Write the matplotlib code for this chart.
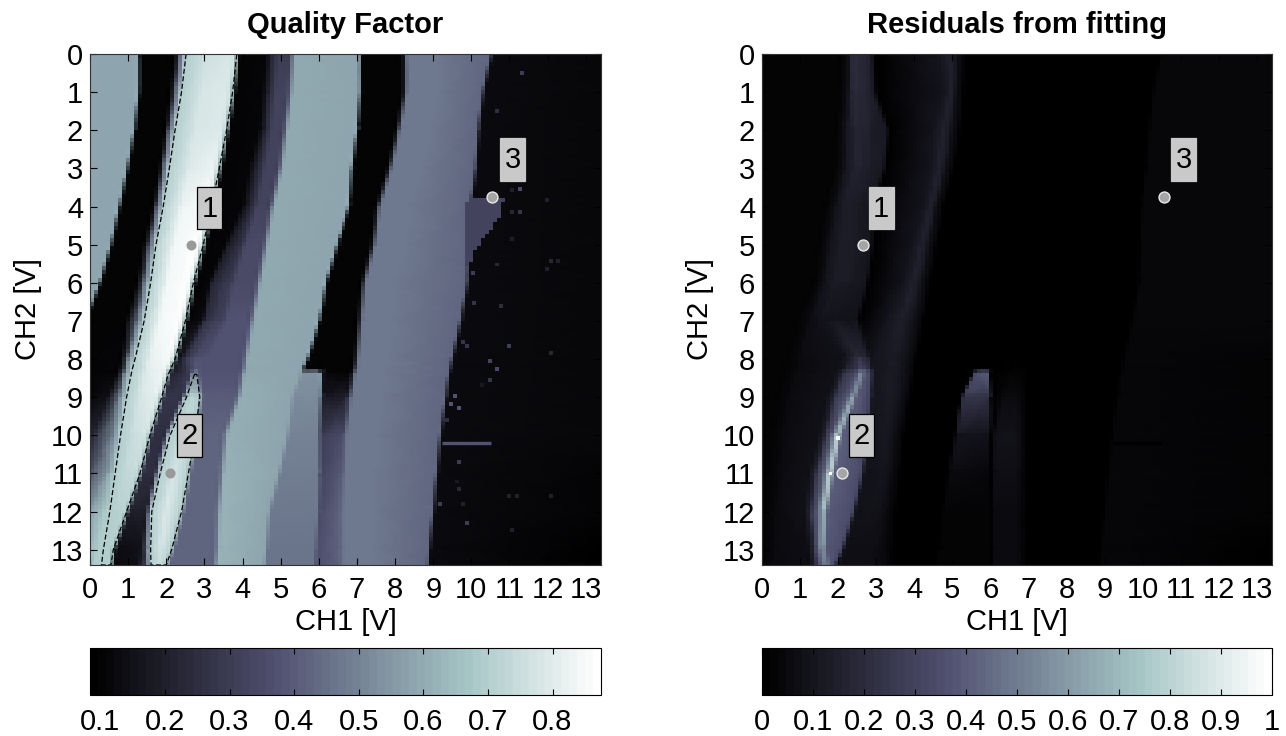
import numpy as np
import matplotlib
matplotlib.use("Agg")
import matplotlib.pyplot as plt
from matplotlib.backends.backend_agg import FigureCanvasAgg
from matplotlib.cm import ScalarMappable
from matplotlib.colors import Normalize
from matplotlib.figure import Figure
from matplotlib.patches import Rectangle

plt.rcParams['font.family'] = ['Liberation Sans', 'DejaVu Sans']

rows = np.array([0, 1, 2, 3, 4, 5, 6, 7, 8, 8.3, 8.4, 9, 10, 11, 12, 13, 13.4])

tick_volts = list(range(14))
qf_ticks = [0.1, 0.2, 0.3, 0.4, 0.5, 0.6, 0.7, 0.8]
res_ticks = [0, 0.1, 0.2, 0.3, 0.4, 0.5, 0.6, 0.7, 0.8, 0.9, 1]
res_tick_labels = ['0', '0.1', '0.2', '0.3', '0.4', '0.5', '0.6', '0.7', '0.8', '0.9', '1']

# marked points and their labels
point_names = ['1', '2', '3']
point_x = [2.65, 2.1, 10.55]
point_y = [5.0, 11.0, 3.75]
label_x = [2.8, 2.28, 10.75]
label_y = [3.48, 9.45, 2.2]

# band edges, Quality Factor panel
band_a_right = np.array([1.3, 1.3, 1.18, 1.0, .79, .57, .28, -.1, -.2, -.2, -.2, -.2, -.2, -.2, -.2, -.2, -.2])
dark_end = np.array([2.25, 2.13, 2.0, 1.85, 1.68, 1.44, 1.27, 1.0, .87, .8, .75, .52, .13, -.1, -.1, -.1, -.1])
contour_left = np.array([2.52, 2.4, 2.23, 2.08, 1.92, 1.73, 1.59, 1.42, 1.18, 1.1, 1.08, .96, .80, .66, .52, .35, .3])
contour_right = np.array([3.85, 3.74, 3.58, 3.39, 3.19, 2.97, 2.71, 2.5, 2.23, 2.1, 2.05, 1.88, 1.57, 1.31, .96, .61, .55])
dark2_end = np.array([4.63, 4.55, 4.46, 4.2, 4.02, 3.58, 3.15, 3.0, 2.53, 2.55, 2.6, 2.42, 2.0, 1.75, 1.55, 1.35, 1.3])
lobe_left = np.array([4.75, 4.67, 4.58, 4.32, 4.14, 3.7, 3.27, 3.1, 2.63, 2.7, 2.74, 2.53, 2.1, 1.84, 1.62, 1.59, 1.6])
lobe_right = np.array([4.85, 4.77, 4.68, 4.5, 4.3, 4.0, 3.7, 3.5, 3.0, 2.85, 2.8, 2.88, 2.75, 2.58, 2.4, 2.14, 2.0])
purple_end = np.array([5.25, 5.2, 5.07, 4.94, 4.72, 4.55, 4.37, 4.2, 4.02, 3.98, 3.95, 3.85, 3.5, 3.41, 3.32, 3.28, 3.25])
teal_right = np.array([7.12, 7.12, 7.04, 6.9, 6.82, 6.5, 6.2, 6.03, 5.73, 5.58, 5.55, 5.33, 5.2, 4.98, 4.72, 4.63, 4.6])
gray_right = np.array([7.42, 7.42, 7.34, 7.2, 7.12, 6.8, 6.5, 6.33, 6.03, 5.98, 6.1, 6.07, 6.03, 6.03, 6.0, 5.94, 5.92])
big_left = np.array([8.35, 8.35, 8.17, 7.95, 7.65, 7.52, 7.26, 7.17, 7.08, 7.03, 7.0, 6.9, 6.78, 6.73, 6.68, 6.68, 6.68])
big_right = np.array([10.55, 10.33, 10.21, 10.14, 10.0, 9.96, 9.92, 9.75, 9.53, 9.46, 9.44, 9.36, 9.22, 9.12, 9.03, 8.92, 8.9])

# levels along those edges
lv_a = [.59] * 17
lv_after_a = [.1, .1, .1, .1, .1, .1, .1, .1, .1, .1, .1, .1, .2, .3, .55, .62, .63]
lv_dark_end = [.1, .1, .1, .1, .1, .1, .1, .1, .11, .12, .12, .15, .22, .3, .55, .62, .63]
lv_fringe = [.45, .45, .45, .45, .45, .45, .5, .5, .55, .55, .55, .55, .55, .6, .68, .7, .7]
lv_contour = [.7] * 17
lv_peak = [.78, .8, .8, .83, .86, .87, .87, .87, .86, .85, .85, .82, .78, .74, .72, .7, .7]
lv_inner = [.76, .78, .78, .8, .83, .84, .84, .84, .82, .81, .8, .78, .75, .73, .71, .7, .7]
lv_dark2 = [.1, .1, .1, .1, .1, .1, .1, .1, .15, .18, .2, .28, .25, .25, .2, .13, .13]
lv_dark2_end = [.12, .12, .12, .12, .12, .12, .12, .14, .3, .3, .3, .28, .25, .25, .2, .15, .15]
lv_lobe_out = [.15, .15, .15, .15, .15, .18, .2, .24, .3, .32, .33, .32, .4, .45, .45, .45, .42]
lv_lobe_edge = [.18, .18, .18, .18, .18, .2, .23, .26, .33, .35, .48, .68, .7, .7, .7, .7, .7]
lv_lobe_mid = [.22, .22, .22, .22, .22, .24, .27, .3, .37, .4, .5, .72, .75, .78, .8, .78, .75]
lv_lobe_right = [.25, .26, .26, .26, .26, .28, .3, .33, .37, .4, .48, .68, .7, .7, .7, .7, .7]
lv_purple = [.3, .32, .33, .33, .33, .35, .35, .37, .38, .38, .38, .4, .42, .42, .42, .42, .42]
lv_teal = [.6, .6, .6, .6, .6, .6, .6, .6, .6, .6, .6, .61, .61, .62, .62, .62, .62]
lv_teal_end = [.58] * 17
lv_gray = [.1, .1, .1, .1, .1, .1, .1, .1, .1, .1, .54, .52, .5, .49, .47, .46, .46]
lv_after_gray = [.1, .1, .1, .1, .1, .1, .1, .1, .1, .1, .11, .16, .3, .33, .35, .36, .36]
lv_before_big = [.1, .1, .1, .1, .1, .1, .1, .1, .1, .1, .1, .2, .36, .4, .42, .42, .42]
lv_big = [.47] * 17
lv_big_end = [.43] * 17
lv_noise = [.13] * 17
lv_noise_edge = [.12, .12, .12, .12, .12, .12, .12, .12, .12, .12, .12, .11, .11, .1, .1, .09, .09]

# isolated bright pixels in the dark region of the Quality Factor panel
spot_x = [11.32, 10.67, 11.27, 11.06, 11.27, 11.06, 10.67, 10.05, 12.08, 12.28, 11.98, 11.07, 11.98, 10.06, 10.77,
          9.77, 9.88, 10.98, 12.08, 10.48, 10.67, 10.48, 10.28, 9.57, 9.47, 9.68, 9.37, 9.68, 9.68, 9.62, 10.98,
          11.19, 12.08, 9.18, 9.77, 9.88, 11.07]
spot_y = [.5, 1.5, 3.53, 3.56, 4.15, 4.15, 5.52, 5.74, 5.44, 5.44, 5.63, 4.84, 3.84, 6.53, 6.62,
          7.55, 7.66, 7.66, 7.85, 8.06, 8.27, 8.56, 8.67, 8.97, 9.18, 9.28, 9.59, 10.7, 11.41, 11.21, 11.6,
          11.6, 11.6, 11.8, 11.8, 12.29, 12.48]
spot_v = [.3, .25, .35, .2, .28, .22, .22, .3, .22, .2, .2, .2, .2, .28, .25,
          .28, .28, .3, .22, .33, .35, .28, .18, .38, .38, .38, .25, .3, .22, .18, .2,
          .2, .2, .3, .2, .3, .2]
triangle_x = [9.95, 10.8, 10.7, 10.4, 10.1, 9.9]
triangle_y = [3.8, 3.8, 4.2, 4.6, 5.0, 5.5]
streak_x = [9.22, 10.52]
streak_y = [10.19, 10.19]

# band edges, residuals panel
res_outer = np.array([2.44, 2.4, 2.3, 2.25, 2.0, 1.83, 1.7, 1.3, 1.0, .95, .9, .75, .6, .5, .4, .35, .3])
res_lobe_left = np.array([2.6, 2.6, 2.65, 2.65, 2.35, 2.25, 2.1, 1.75, 2.35, 2.25, 2.18, 1.96, 1.74, 1.48, 1.35, 1.45, 1.5])
res_peak = np.array([2.7, 2.7, 2.8, 2.8, 2.5, 2.45, 2.3, 1.95, 2.55, 2.6, 2.62, 2.4, 2.0, 1.8, 1.63, 1.6, 1.7])
res_lobe_right = np.array([2.9, 2.95, 3.3, 3.2, 2.88, 2.88, 2.75, 2.5, 2.79, 2.85, 2.88, 2.84, 2.75, 2.62, 2.4, 2.1, 1.92])
res_b_left = np.array([4.7, 4.8, 4.54, 4.45, 4.27, 4.0, 3.75, 3.3, 2.95, 3.0, 3.0, 2.98, 2.9, 2.8, 2.6, 2.3, 2.2])
res_b_mid = np.array([4.95, 5.0, 4.8, 4.67, 4.45, 4.22, 4.0, 3.7, 3.5, 3.45, 3.4, 3.4, 3.3, 3.2, 3.05, 2.95, 2.9])
res_b_right = np.array([5.2, 5.15, 5.06, 4.89, 4.63, 4.45, 4.27, 4.1, 3.9, 3.85, 3.85, 3.75, 3.6, 3.5, 3.4, 3.3, 3.3])
res_c_left = np.array([5.63, 5.63, 5.63, 5.63, 5.63, 5.63, 5.63, 5.63, 5.63, 5.63, 5.63, 5.32, 5.15, 4.97, 4.8, 4.7, 4.6])
res_c_right = np.array([5.98, 5.98, 5.98, 5.98, 5.98, 5.98, 5.98, 5.98, 5.98, 5.98, 5.98, 6.02, 6.02, 6.02, 6.02, 6.02, 6.02])
res_d_left = np.array([6.6, 6.6, 6.6, 6.6, 6.6, 6.6, 6.6, 6.6, 6.6, 6.6, 6.58, 6.37, 6.15, 6.13, 6.1, 6.1, 6.1])
res_d_right = np.array([6.75, 6.75, 6.75, 6.75, 6.75, 6.75, 6.75, 6.75, 6.75, 6.75, 6.75, 6.72, 6.72, 6.72, 6.72, 6.72, 6.72])

rv_base = [.02] * 17
rv_outer = [.16, .16, .14, .12, .1, .1, .1, .07, .06, .06, .06, .06, .06, .06, .05, .05, .05]
rv_before_lobe = [.2, .19, .17, .16, .14, .14, .14, .09, .08, .08, .08, .08, .08, .08, .08, .07, .07]
rv_lobe_left = [.2, .19, .17, .16, .14, .14, .14, .09, .15, .2, .24, .26, .28, .28, .28, .32, .32]
rv_peak_side = [.18, .18, .16, .15, .14, .14, .14, .09, .18, .25, .36, .42, .5, .5, .5, .45, .4]
rv_peak = [.18, .18, .16, .15, .14, .14, .14, .09, .22, .36, .55, .6, .8, .85, .72, .6, .5]
rv_peak_right = [.16, .16, .14, .13, .12, .12, .12, .09, .2, .28, .38, .4, .42, .42, .4, .38, .38]
rv_lobe_right = [.12, .12, .11, .11, .1, .1, .1, .08, .18, .24, .28, .3, .32, .33, .33, .33, .33]
rv_gap = [.01, .01, .01, .01, .01, .01, .01, .01, .1, .1, .11, .11, .11, .1, .09, .08, .08]
rv_b_left = [.1, .1, .1, .1, .1, .1, .1, .1, .1, .1, .1, .1, .1, .09, .08, .07, .07]
rv_b_mid = [.16, .17, .17, .17, .16, .16, .16, .15, .14, .14, .14, .13, .12, .1, .08, .07, .07]
rv_b_right = [.07] * 12 + [.06, .05, .04, .04, .04]
rv_empty = [.01] * 17
rv_c_left = [.01, .01, .01, .01, .01, .01, .01, .01, .01, .01, .36, .26, .1, .05, .03, .02, .02]
rv_c_right = [.01, .01, .01, .01, .01, .01, .01, .01, .01, .01, .42, .22, .08, .04, .03, .02, .02]
rv_d_left = [.01, .01, .01, .01, .01, .01, .01, .01, .01, .02, .03, .05, .08, .07, .05, .05, .05]
rv_d_right = [.01, .01, .01, .01, .01, .01, .01, .01, .01, .02, .03, .06, .08, .07, .05, .05, .05]
rv_black = [.005] * 17
rv_noise = [.045, .045, .045, .045, .045, .045, .04, .04, .04, .04, .04, .04, .04, .04, .04, .04, .04]
rv_noise_edge = [.04, .04, .04, .04, .04, .04, .035, .035, .03, .03, .03, .03, .03, .025, .02, .015, .015]

res_spot_x = [2.0, 1.8]
res_spot_y = [10.07, 11.0]
res_spot_v = [.97, .97]

bone = plt.get_cmap('bone', 64)
n_cells = 128


def band_image(edges, norm, polygon=None):
    # paint the bands on a small canvas of one pixel per measured cell
    small = Figure(figsize=(n_cells / 100, n_cells / 100), dpi=100)
    canvas = FigureCanvasAgg(small)
    sax = small.add_axes([0, 0, 1, 1])
    X = np.column_stack([np.asarray(e[0], dtype=float) * np.ones(len(rows)) for e in edges])
    C = np.column_stack([e[1] for e in edges])
    Y = np.repeat(rows[:, None], len(edges), axis=1)
    sax.pcolormesh(X, Y, C, shading='gouraud', cmap=bone, norm=norm)
    if polygon:
        sax.fill(polygon[0], polygon[1], color=bone(norm(polygon[2])), lw=0, antialiased=False)
    sax.set_xlim(0, 13.4)
    sax.set_ylim(13.4, 0)
    sax.axis('off')
    canvas.draw()
    return np.asarray(canvas.buffer_rgba())


def style_axes(ax):
    ax.set_xlim(0, 13.4)
    ax.set_ylim(13.4, 0)
    ax.set_aspect('auto')
    ax.set_xticks(tick_volts)
    ax.set_yticks(tick_volts)
    ax.tick_params(direction='in', top=True, right=True, length=5, width=0.8, labelsize=21)
    ax.tick_params(axis='x', pad=8)
    ax.tick_params(axis='y', pad=5)
    ax.set_xlabel('CH1 [V]', fontsize=21, labelpad=3)
    ax.set_ylabel('CH2 [V]', fontsize=21, labelpad=6)
    for s in ax.spines.values():
        s.set_linewidth(0.8)
        s.set_color('#333333')


def draw_labels(ax, edge_colors):
    for i, name in enumerate(point_names):
        ax.add_patch(Rectangle((label_x[i], label_y[i]), 0.66, 1.12, fc='#c9c9c9', ec=edge_colors[i], lw=0.9, zorder=5))
        ax.text(label_x[i] + 0.33, label_y[i] + 0.58, name, fontsize=21, ha='center', va='center', zorder=6)


def add_colorbar(fig, rect, norm, ticks, labels=None):
    cax = fig.add_axes(rect)
    cb = fig.colorbar(ScalarMappable(norm=norm, cmap=bone), cax=cax, orientation='horizontal')
    cb.set_ticks(ticks)
    if labels:
        cb.set_ticklabels(labels)
    cax.tick_params(direction='in', top=True, bottom=True, length=4, width=0.8, labelsize=21, pad=9.5)
    cb.outline.set_linewidth(0.8)


W, H = 1286, 736
fig = plt.figure(figsize=(W / 100, H / 100), dpi=100)
ax1 = fig.add_axes([90 / W, 1 - 565 / H, 511 / W, 511 / H])
ax2 = fig.add_axes([762 / W, 1 - 565 / H, 510 / W, 511 / H])

# Quality Factor
norm1 = Normalize(0.084, 0.875)
w1 = contour_left + 0.4 * (contour_right - contour_left)
edges1 = [
    (-0.3, lv_a), (band_a_right, lv_a), (band_a_right + .04, lv_after_a), (dark_end, lv_dark_end),
    (contour_left - .12, lv_fringe), (contour_left, lv_contour), (w1, lv_inner),
    (contour_right - .12, lv_peak), (contour_right, lv_contour), (contour_right + .1, lv_dark2),
    (dark2_end, lv_dark2_end), (lobe_left - .05, lv_lobe_out), (lobe_left, lv_lobe_edge),
    ((lobe_left + lobe_right) / 2, lv_lobe_mid), (lobe_right, lv_lobe_right), (lobe_right + .1, lv_purple),
    (purple_end, lv_purple), (purple_end + .12, lv_teal), (teal_right, lv_teal_end),
    (teal_right + .04, lv_gray), (gray_right, lv_gray), (gray_right + .04, lv_after_gray),
    (big_left - .12, lv_before_big), (big_left, lv_big), (big_left + .8, lv_big),
    (big_right, lv_big_end), (big_right + .04, lv_noise), (13.6, lv_noise_edge),
]
ax1.imshow(band_image(edges1, norm1, (triangle_x, triangle_y, 0.33)), extent=[0, 13.4, 13.4, 0],
           interpolation='nearest', aspect='auto')
ax1.plot(streak_x, streak_y, color=bone(norm1(0.38)), lw=2.4, solid_capstyle='butt')
ax1.scatter(spot_x, spot_y, c=spot_v, cmap=bone, norm=norm1, marker='s', s=8, linewidths=0)
ax1.plot(np.r_[contour_left, contour_right[::-1]], np.r_[rows, rows[::-1]], color='k', ls='--', lw=0.9, dashes=(4, 2))
ax1.plot(np.r_[lobe_left[10:], lobe_right[10:][::-1], lobe_left[10]], np.r_[rows[10:], rows[10:][::-1], rows[10]],
         color='k', ls='--', lw=0.9, dashes=(4, 2))
ax1.scatter(point_x[:2], point_y[:2], s=52, c='#999999', linewidths=0, zorder=4)
ax1.scatter(point_x[2:], point_y[2:], s=62, c='#a5a5a5', edgecolors='#e8e8e8', linewidths=1, zorder=4)
draw_labels(ax1, ['k', 'k', '#c9c9c9'])
style_axes(ax1)
ax1.set_title('Quality Factor', fontsize=21, fontweight='bold', pad=15)

# Residuals
norm2 = Normalize(0, 1)
edges2 = [
    (-0.3, rv_base), (res_outer - .3, rv_base), (res_outer, rv_outer), (res_lobe_left - .2, rv_before_lobe),
    (res_lobe_left, rv_lobe_left), (res_peak - .1, rv_peak_side), (res_peak, rv_peak), (res_peak + .12, rv_peak_right),
    (res_lobe_right, rv_lobe_right), (res_lobe_right + .08, rv_gap), (res_b_left, rv_b_left),
    (res_b_mid, rv_b_mid), (res_b_right, rv_b_right), (res_b_right + .2, rv_empty),
    (res_c_left - .05, rv_empty), (res_c_left, rv_c_left), (res_c_right, rv_c_right), (res_c_right + .05, rv_empty),
    (res_d_left, rv_d_left), (res_d_right, rv_d_right), (res_d_right + .25, rv_empty),
    (big_right - .02, rv_black), (big_right + .02, rv_noise), (13.6, rv_noise_edge),
]
ax2.imshow(band_image(edges2, norm2), extent=[0, 13.4, 13.4, 0], interpolation='nearest', aspect='auto')
ax2.plot(streak_x, streak_y, color='k', lw=2.4, solid_capstyle='butt')
ax2.scatter(res_spot_x, res_spot_y, c=res_spot_v, cmap=bone, norm=norm2, marker='s', s=8, linewidths=0)
ax2.scatter(point_x, point_y, s=62, c='#a5a5a5', edgecolors='#e8e8e8', linewidths=1, zorder=4)
draw_labels(ax2, ['#c9c9c9', 'k', '#c9c9c9'])
style_axes(ax2)
ax2.set_title('Residuals from fitting', fontsize=21, fontweight='bold', pad=15)

add_colorbar(fig, [90 / W, 1 - 695 / H, 511 / W, 47 / H], norm1, qf_ticks)
add_colorbar(fig, [762 / W, 1 - 695 / H, 510 / W, 47 / H], norm2, res_ticks, res_tick_labels)

plt.savefig('out.png', dpi=100)
